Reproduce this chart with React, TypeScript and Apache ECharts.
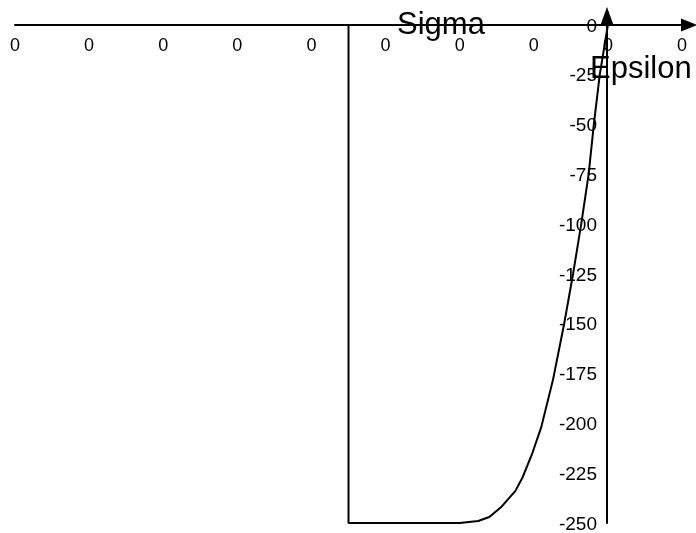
import React, { useEffect, useRef } from "react";
import * as echarts from "echarts";

// Strain (epsilon) and stress (sigma)
const epsilon = [
  -0.007, -0.0035, -0.0035, -0.002, -0.00175, -0.0016, -0.00144, -0.00125,
  -0.00115, -0.00102, -0.0009, -0.00074, -0.00059, -0.00047, -0.00036,
  -0.00026, -0.00019, -0.00011, 0,
];
const sigma = [
  0, 0, -250, -250, -249, -247, -242, -234, -227, -215, -202, -178, -150,
  -125, -100, -75, -50, -25, 0,
];
const xAxisName = "Epsilon";
const yAxisName = "Sigma";

const FONT = "'Liberation Sans', Arial, sans-serif";

export default function App() {
  const ref = useRef<HTMLDivElement>(null);
  useEffect(() => {
    if (!ref.current) return;
    const chart = echarts.init(ref.current, undefined, { renderer: "svg" });
    const data = epsilon.map((e, i) => [e, sigma[i]]);
    const gridLeft = 15;
    const gridRight = 14;
    const gridTop = 25;
    const gridBottom = 10;
    chart.setOption({
      animation: false,
      textStyle: { fontFamily: FONT, color: "#000" },
      grid: {
        left: gridLeft,
        right: gridRight,
        top: gridTop,
        bottom: gridBottom,
        outerBoundsMode: "none",
        containLabel: false,
      },
      xAxis: {
        type: "value",
        min: -0.008,
        max: 0.001,
        interval: 0.001,
        position: "bottom",
        offset: -(533 - gridTop - gridBottom),
        axisLine: {
          onZero: false,
          symbol: ["none", "triangle"],
          symbolSize: [13, 16],
          symbolOffset: [0, 7],
          lineStyle: { color: "#000", width: 2 },
        },
        axisTick: { show: false },
        splitLine: { show: false },
        axisLabel: {
          fontSize: 18,
          color: "#000",
          fontFamily: FONT,
          margin: 11,
          formatter: (v: number) => String(Math.round(v)),
        },
      },
      yAxis: {
        type: "value",
        min: -250,
        max: 0,
        interval: 25,
        position: "left",
        offset: -592,
        axisLine: {
          onZero: false,
          symbol: ["none", "triangle"],
          symbolSize: [13, 18],
          symbolOffset: [0, 9],
          lineStyle: { color: "#000", width: 2 },
        },
        axisTick: { show: false },
        splitLine: { show: false },
        axisLabel: {
          fontSize: 19,
          color: "#000",
          fontFamily: FONT,
          margin: 10,
        },
      },
      graphic: [
        {
          type: "text",
          left: 442 - 45,
          top: 8,
          style: {
            text: yAxisName,
            font: `31px ${FONT}`,
            fill: "#000",
          },
        },
        {
          type: "text",
          left: 590,
          top: 52,
          style: {
            text: xAxisName,
            font: `31px ${FONT}`,
            fill: "#000",
          },
        },
      ],
      series: [
        {
          type: "line",
          data,
          showSymbol: false,
          symbol: "none",
          clip: false,
          lineStyle: { color: "#000", width: 2 },
        },
      ],
    });
    return () => chart.dispose();
  }, []);
  return (
    <div
      ref={ref}
      style={{ position: "fixed", left: 0, top: 0, width: 696, height: 533 }}
    />
  );
}
